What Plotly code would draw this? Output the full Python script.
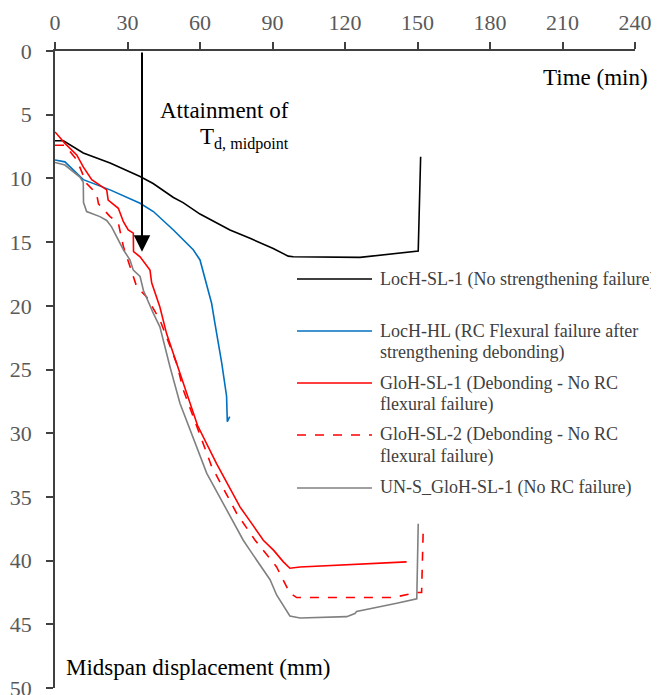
import plotly.graph_objects as go

# ---------------- data (time in min, midspan displacement in mm) ----------------
locH_SL1_t = [0, 3.5, 11.7, 22.8, 35.2, 40.6, 49, 53, 60, 72.4, 80.7, 90.3, 96.5, 98.6, 126.2, 150.3, 151.3]
locH_SL1_d = [7.05, 7.05, 8.0, 8.8, 9.85, 10.4, 11.5, 11.9, 12.8, 14.05, 14.7, 15.5, 16.1, 16.15, 16.2, 15.7, 8.3]

locH_HL_t = [0, 4.1, 11.7, 22.8, 35.2, 40.7, 49, 57.2, 60, 64.8, 66.2, 69, 71, 71.3, 72.3]
locH_HL_d = [8.55, 8.7, 10.1, 10.9, 11.95, 12.6, 14.05, 15.6, 16.4, 19.8, 21.4, 24.5, 27.1, 29.1, 28.7]

gloH_SL1_t = [0, 4.1, 9, 11.7, 15.2, 21.4, 22, 26.2, 28.3, 30.3, 32.4, 32.5, 35.2, 39.3, 40, 43.4, 46.2,
              53.1, 59, 66.9, 76.6, 80.7, 86.2, 90.5, 94.5, 97.2, 101.4, 145.5]
gloH_SL1_d = [6.35, 7.25, 8.16, 9.1, 10.1, 10.9, 11.7, 12.35, 13.4, 14.05, 14.3, 15.75, 16.15, 17.2, 18.2, 20.1, 22.2,
              26.1, 29.4, 32.4, 35.8, 36.9, 38.4, 39.2, 40.1, 40.6, 40.5, 40.1]

gloH_SL2_t = [0, 4.1, 9, 13.1, 17.2, 18, 22.8, 26.2, 28.3, 31, 33.8, 37.9, 43.4, 50.3, 53.1, 64.8, 75.2,
              82.8, 86.2, 91.7, 97.2, 100, 140, 149.6, 151.7, 152.4]
gloH_SL2_d = [7.4, 7.4, 8.55, 10.4, 11.2, 12.0, 13.0, 13.5, 15.35, 16.9, 18.5, 19.3, 21.1, 24.5, 26.6, 32.6, 36.3,
              38.4, 39.2, 40.5, 42.55, 42.9, 42.9, 42.5, 42.5, 37.3]

unS_t = [0, 4.1, 10.3, 11.7, 11.8, 13.1, 18.6, 21.4, 23.4, 25.5, 28.3, 31, 32.4, 35.2, 36.6, 40.7, 43.4,
         47.6, 51.7, 62.8, 72.4, 77.9, 80.7, 89, 91.7, 97.2, 101.4, 120.7, 124.1, 124.8, 141.4, 149.7, 150.3]
unS_d = [8.75, 8.95, 9.9, 10.3, 11.9, 12.6, 13.0, 13.3, 13.8, 14.6, 15.6, 16.4, 17.2, 17.7, 18.8, 20.6, 21.65,
         24.8, 27.65, 33.15, 36.55, 38.4, 39.2, 41.5, 42.7, 44.35, 44.5, 44.4, 44.15, 44.0, 43.35, 43.0, 37.1]

series_names = [
    ["LocH-SL-1 (No strengthening failure)"],
    ["LocH-HL (RC Flexural failure after", "strengthening debonding)"],
    ["GloH-SL-1 (Debonding - No RC", "flexural failure)"],
    ["GloH-SL-2 (Debonding - No RC", "flexural failure)"],
    ["UN-S_GloH-SL-1 (No RC failure)"],
]
series_t = [locH_SL1_t, locH_HL_t, gloH_SL1_t, gloH_SL2_t, unS_t]
series_d = [locH_SL1_d, locH_HL_d, gloH_SL1_d, gloH_SL2_d, unS_d]
series_colors = ["#000000", "#0070C0", "#FF0000", "#FF0000", "#808080"]
series_dash = ["solid", "solid", "solid", "dash", "solid"]

x_ticks = [0, 30, 60, 90, 120, 150, 180, 210, 240]
y_ticks = [0, 5, 10, 15, 20, 25, 30, 35, 40, 45, 50]

arrow_time = 36
arrow_disp = 15.75

# ---------------- layout geometry ----------------
# page body has an 8px default margin, so the figure is shrunk/shifted to compensate
OFF = 8
VW, VH = 659, 695                 # browser viewport
PLOT_L, PLOT_R, PLOT_T, PLOT_B = 55, 635, 51, 688   # plot area in viewport pixels
W, H = VW - OFF, VH - OFF
L, T = PLOT_L - OFF, PLOT_T - OFF
R = W - (PLOT_R - OFF)
B = H - (PLOT_B - OFF)
PW, PH = PLOT_R - PLOT_L, PLOT_B - PLOT_T
FONT = "Liberation Serif, Times New Roman, serif"


def px_x(px):
    return (px - PLOT_L) / PW


def px_y(py):
    return (PLOT_B - py) / PH


fig = go.Figure()
for name, t, d, c, dash in zip(series_names, series_t, series_d, series_colors, series_dash):
    fig.add_trace(go.Scatter(x=t, y=d, mode="lines", name="<br>".join(name),
                             line=dict(color=c, width=1.6, dash=dash), showlegend=False))

annotations = []
shapes = []

# manual legend
legend_rows = [279, 331, 383, 435, 488]
for name, c, dash, ry in zip(series_names, series_colors, series_dash, legend_rows):
    shapes.append(dict(type="line", xref="paper", yref="paper",
                       x0=px_x(297), x1=px_x(372), y0=px_y(ry), y1=px_y(ry),
                       line=dict(color=c, width=1.6, dash=dash)))
    for i, line in enumerate(name):
        annotations.append(dict(xref="paper", yref="paper", x=px_x(378), y=px_y(ry + i * 21.5),
                                xanchor="left", yanchor="middle", showarrow=False, text=line,
                                font=dict(family=FONT, size=18, color="#404040")))

# arrow for T_d, midpoint
annotations.append(dict(x=arrow_time, y=arrow_disp, ax=arrow_time, ay=0, axref="x", ayref="y",
                        xref="x", yref="y", text="", showarrow=True, arrowhead=2,
                        arrowsize=1.65, arrowwidth=2, arrowcolor="#000000"))
annotations.append(dict(xref="paper", yref="paper", x=px_x(158), y=px_y(111), xanchor="left",
                        yanchor="middle", showarrow=False, text="Attainment of",
                        font=dict(family=FONT, size=23, color="#000000")))
annotations.append(dict(xref="paper", yref="paper", x=px_x(198), y=px_y(138), xanchor="left",
                        yanchor="middle", showarrow=False,
                        text="T<sub>d, midpoint</sub>",
                        font=dict(family=FONT, size=23, color="#000000")))
# axis titles
annotations.append(dict(xref="paper", yref="paper", x=px_x(650), y=px_y(78), xanchor="right",
                        yanchor="middle", showarrow=False, text="Time (min)",
                        font=dict(family=FONT, size=23, color="#000000")))
annotations.append(dict(xref="paper", yref="paper", x=px_x(64), y=px_y(667), xanchor="left",
                        yanchor="middle", showarrow=False, text="Midspan displacement (mm)",
                        font=dict(family=FONT, size=23, color="#000000")))

fig.update_layout(
    width=W, height=H,
    margin=dict(l=L, r=R, t=T, b=B, autoexpand=False),
    paper_bgcolor="white", plot_bgcolor="white",
    showlegend=False,
    font=dict(family=FONT, size=22, color="#595959"),
    annotations=annotations,
    shapes=shapes,
    xaxis=dict(side="top", range=[0, 240], tickvals=x_ticks, showgrid=False, zeroline=False,
               automargin=False, ticklabelstandoff=3, ticklabeloverflow="allow",
               showline=True, linecolor="#404040", linewidth=1.5, ticks="outside", ticklen=7,
               tickwidth=1.5, tickcolor="#404040", tickfont=dict(family=FONT, size=22, color="#595959")),
    yaxis=dict(range=[50, 0], tickvals=y_ticks, showgrid=False, zeroline=False,
               automargin=False, ticklabelstandoff=10, ticklabeloverflow="allow",
               showline=True, linecolor="#404040", linewidth=1.5, ticks="outside", ticklen=7,
               tickwidth=1.5, tickcolor="#404040", tickfont=dict(family=FONT, size=22, color="#595959")),
)

fig.write_html("out.html")
